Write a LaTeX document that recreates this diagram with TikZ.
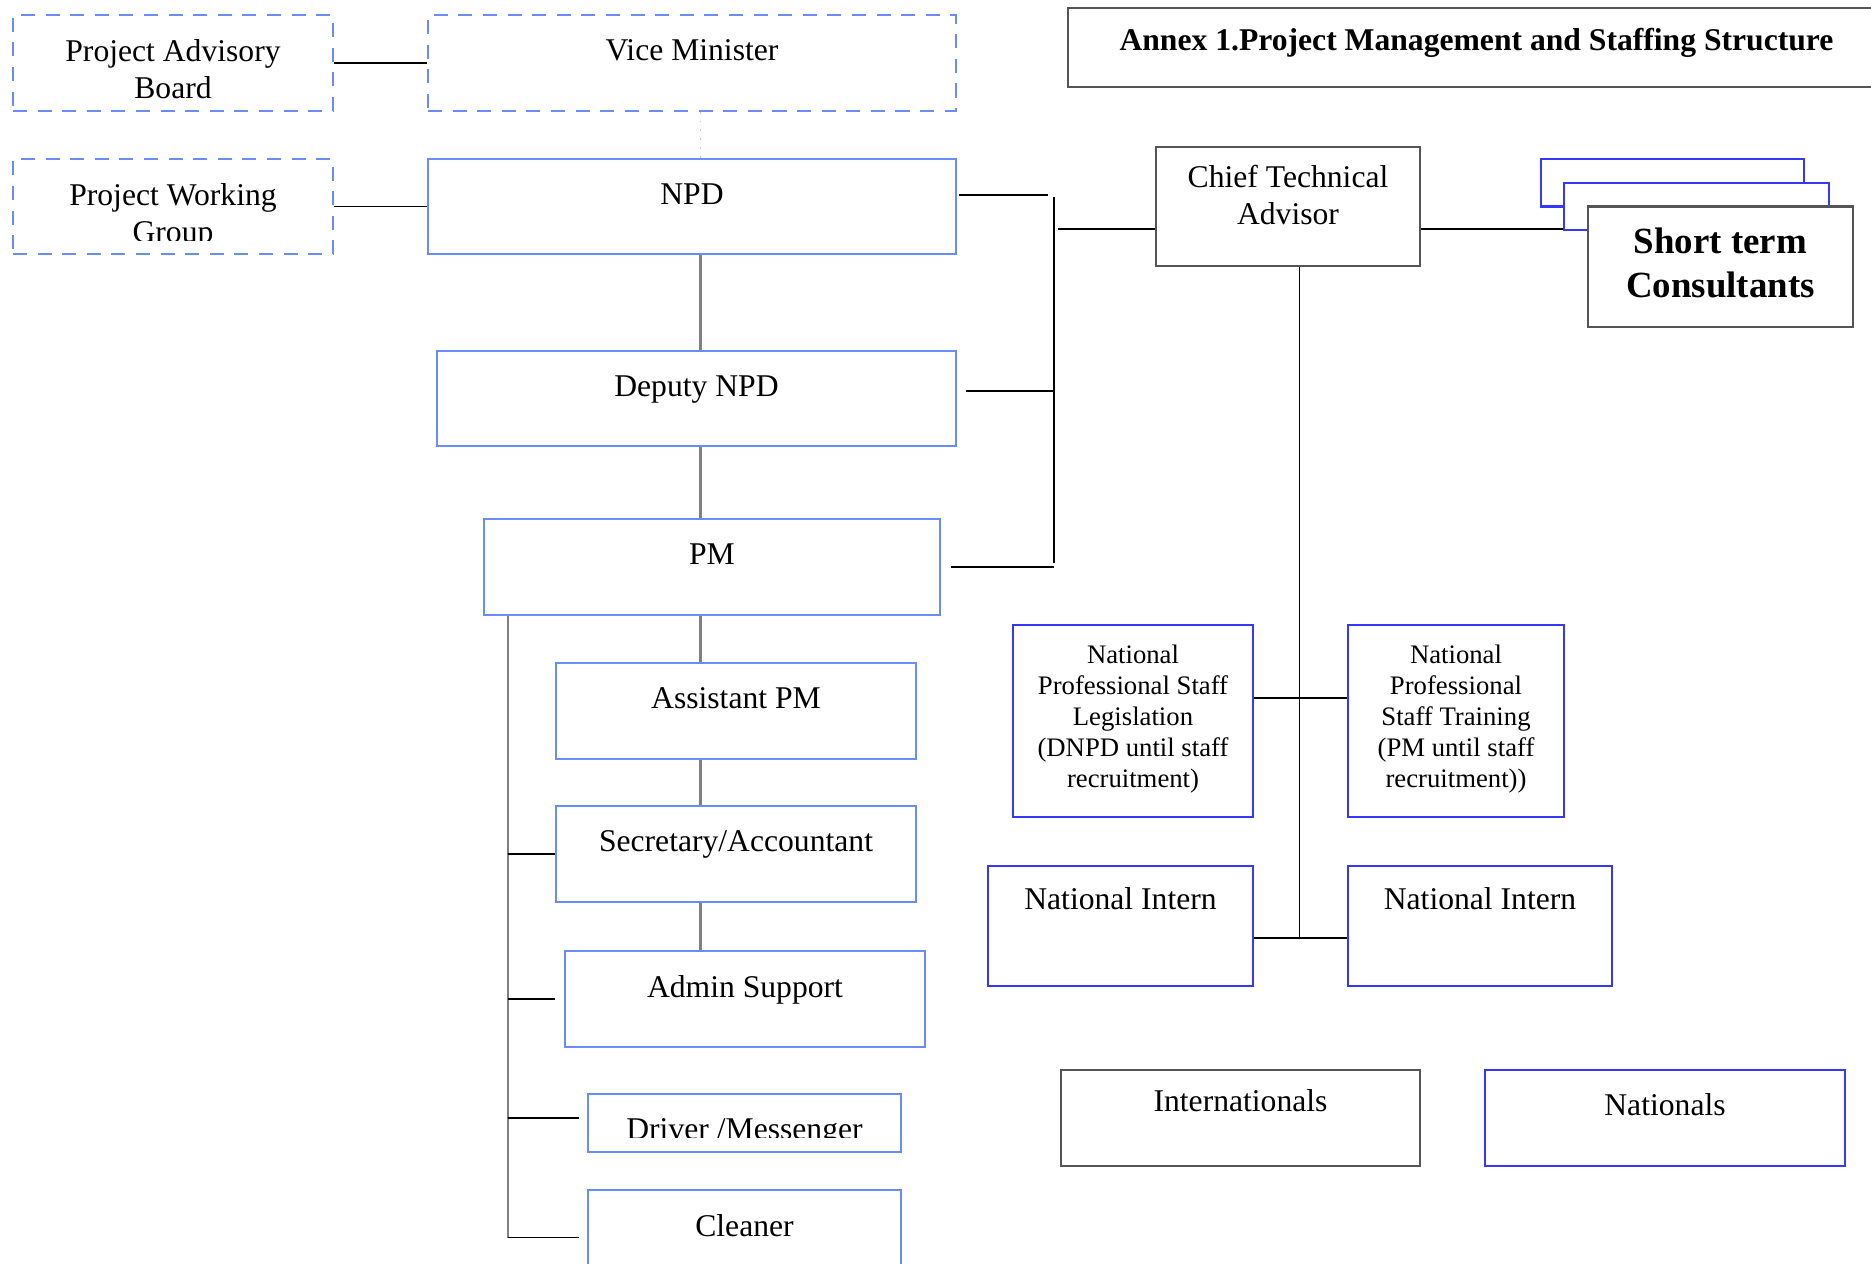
\documentclass[tikz,border=0pt]{standalone}
\usepackage{fontspec}
\setmainfont{Liberation Serif}
\usepackage{tikz}
\usetikzlibrary{positioning,calc}

\definecolor{lightblue}{RGB}{105,140,250}
\definecolor{deepblue}{RGB}{55,55,250}
\definecolor{darkline}{RGB}{85,85,85}

\begin{document}
\begin{tikzpicture}[
    unit/.style={rectangle, draw=lightblue, line width=0.6pt, fill=white, inner sep=0pt},
    advisory/.style={unit, dash pattern=on 4pt off 3pt},
    staff/.style={rectangle, draw=deepblue, line width=0.6pt, fill=white, inner sep=0pt},
    plain/.style={rectangle, draw=darkline, line width=0.6pt, fill=white, inner sep=0pt},
    txt/.style={inner sep=0pt, align=center, font=\fontsize{9}{10.5}\selectfont},
    small/.style={inner sep=0pt, align=center, font=\fontsize{7.6}{8.8}\selectfont},
    link/.style={draw=black, line width=0.5pt},
    trunk/.style={draw=gray, line width=0.6pt}
]

% Page frame
\useasboundingbox (0,0) rectangle (18.71,-12.63);
\clip (0,0) rectangle (18.71,-12.63);

% Advisory level
\node[advisory, minimum width=3.2cm, minimum height=0.955cm] (pab) at (1.73,-0.63) {};
\node[advisory, minimum width=5.28cm, minimum height=0.955cm] (vm) at (6.92,-0.63) {};
\node[advisory, minimum width=3.2cm, minimum height=0.955cm] (pwg) at (1.73,-2.065) {};
\node[txt, below=0.25cm of pab.north] (pab-t) {Project Advisory\\Board};
\node[txt, below=0.25cm of vm.north] (vm-t) {Vice Minister};
\begin{scope}
\clip (pwg.north west) rectangle ([yshift=1.5mm]pwg.south east);
\node[txt, below=0.25cm of pwg.north] (pwg-t) {Project Working\\Group};
\end{scope}

% Management line
\node[unit, minimum width=5.28cm, minimum height=0.955cm] (npd) at (6.92,-2.065) {};
\node[unit, minimum width=5.19cm, minimum height=0.95cm] (dep) at (6.965,-3.985) {};
\node[unit, minimum width=4.56cm, minimum height=0.955cm] (pm) at (7.12,-5.67) {};
\node[unit, minimum width=3.605cm, minimum height=0.955cm] (apm) at (7.36,-7.11) {};
\node[unit, minimum width=3.605cm, minimum height=0.955cm] (sec) at (7.36,-8.54) {};
\node[unit, minimum width=3.605cm, minimum height=0.955cm] (adm) at (7.45,-9.99) {};
\node[unit, minimum width=3.13cm, minimum height=0.575cm] (drv) at (7.445,-11.23) {};
\node[unit, minimum width=3.13cm, minimum height=0.955cm] (cln) at (7.445,-12.375) {};

\node[txt, below=0.25cm of npd.north] (npd-t) {NPD};
\node[txt, below=0.25cm of dep.north] (dep-t) {Deputy NPD};
\node[txt, below=0.25cm of pm.north] (pm-t) {PM};
\node[txt, below=0.25cm of apm.north] (apm-t) {Assistant PM};
\node[txt, below=0.25cm of sec.north] (sec-t) {Secretary/Accountant};
\node[txt, below=0.25cm of adm.north] (adm-t) {Admin Support};
\begin{scope}
\clip (drv.north west) rectangle ([yshift=1.5mm]drv.south east);
\node[txt, below=0.25cm of drv.north] (drv-t) {Driver /Messenger};
\end{scope}
\node[txt, below=0.25cm of cln.north] (cln-t) {Cleaner};

% Title
\node[plain, minimum width=8.17cm, minimum height=0.786cm] (title) at (14.765,-0.477) {};
\node[txt, font=\fontsize{9}{10.5}\selectfont\bfseries, below=0.2cm of title.north] (title-t) {Annex 1.Project Management and Staffing Structure};

% Technical side
\node[plain, minimum width=2.64cm, minimum height=1.19cm] (cta) at (12.88,-2.065) {};
\node[txt, below=0.19cm of cta.north] (cta-t) {Chief Technical\\Advisor};

\node[staff, minimum width=2.63cm, minimum height=0.475cm] (st1) at (16.725,-1.8275) {};
\node[staff, minimum width=2.65cm, minimum height=0.47cm] (st2) at (16.965,-2.065) {};
\node[plain, minimum width=2.65cm, minimum height=1.205cm] (st) at (17.205,-2.6675) {};
\node[txt, font=\fontsize{10.5}{12.5}\selectfont\bfseries, below=0.22cm of st.north] (st-t) {Short term\\Consultants};

\node[staff, minimum width=2.4cm, minimum height=1.925cm] (npsl) at (11.33,-7.21) {};
\node[staff, minimum width=2.155cm, minimum height=1.925cm] (npst) at (14.56,-7.21) {};
\node[small, below=0.21cm of npsl.north] (npsl-t) {National\\Professional Staff\\Legislation\\(DNPD until staff\\recruitment)};
\node[small, below=0.21cm of npst.north] (npst-t) {National\\Professional\\Staff Training\\(PM until staff\\recruitment))};

\node[staff, minimum width=2.65cm, minimum height=1.195cm] (nil) at (11.205,-9.26) {};
\node[staff, minimum width=2.635cm, minimum height=1.195cm] (nir) at (14.80,-9.26) {};
\node[txt, below=0.22cm of nil.north] (nil-t) {National Intern};
\node[txt, below=0.22cm of nir.north] (nir-t) {National Intern};

% Legend
\node[plain, minimum width=3.59cm, minimum height=0.96cm] (intl) at (12.405,-11.18) {};
\node[staff, minimum width=3.605cm, minimum height=0.96cm] (natl) at (16.65,-11.18) {};
\node[txt, below=0.2cm of intl.north] (intl-t) {Internationals};
\node[txt, below=0.24cm of natl.north] (natl-t) {Nationals};

% Connectors - advisory
\coordinate (axis) at (7.005,0);
\draw[link] (pab.east) -- (vm.west);
\draw[link] (pwg.east) -- (npd.west);
\draw[gray!40, dotted, line width=0.5pt] (vm.south -| axis) -- (npd.north -| axis);

% Connectors - management chain
\draw[trunk] (npd.south -| axis) -- (dep.north -| axis);
\draw[trunk] (dep.south -| axis) -- (pm.north -| axis);
\draw[trunk] (pm.south -| axis) -- (apm.north -| axis);
\draw[trunk] (apm.south -| axis) -- (sec.north -| axis);
\draw[trunk] (sec.south -| axis) -- (adm.north -| axis);

% Connectors - support staff
\coordinate (stem) at (5.08,0);
\draw[trunk] (pm.south -| stem) -- (cln.west -| stem);
\draw[link] (sec.west -| stem) -- (sec.west);
\draw[link, shorten >=0.85mm] (adm.west -| stem) -- (adm.west);
\draw[link, shorten >=0.8mm] ([yshift=0.5mm]drv.west -| stem) -- ([yshift=0.5mm]drv.west);
\draw[link, shorten >=0.8mm] (cln.west -| stem) -- (cln.west);

% Connectors - bracket to CTA
\coordinate (brk) at (10.537,0);
\draw[link, shorten <=0.2mm, shorten >=0.55mm] ([yshift=1.15mm]npd.east) -- ([yshift=1.15mm]npd.east -| brk);
\draw[link, shorten <=0.9mm] ([yshift=0.75mm]dep.east) -- ([yshift=0.75mm]dep.east -| brk);
\draw[link, shorten <=1mm] (pm.east) -- (pm.east -| brk);
\draw[link] ([yshift=1mm]npd.east -| brk) -- ([yshift=0.4mm]pm.east -| brk);
\draw[link, shorten <=0.4mm] ([yshift=-2.25mm]cta.west -| brk) -- ([yshift=-2.25mm]cta.west);
\draw[link] ([yshift=-2.25mm]cta.east) -- ([yshift=-2.25mm]cta.east -| st2.west);

% Connectors - national staff
\coordinate (ctl) at (12.995,0);
\draw[link] (cta.south -| ctl) -- ([yshift=-1.2mm]nil.east -| ctl);
\draw[link] ([yshift=2.3mm]npsl.east) -- ([yshift=2.3mm]npst.west);
\draw[link] ([yshift=-1.2mm]nil.east) -- ([yshift=-1.2mm]nir.west);

\end{tikzpicture}
\end{document}
